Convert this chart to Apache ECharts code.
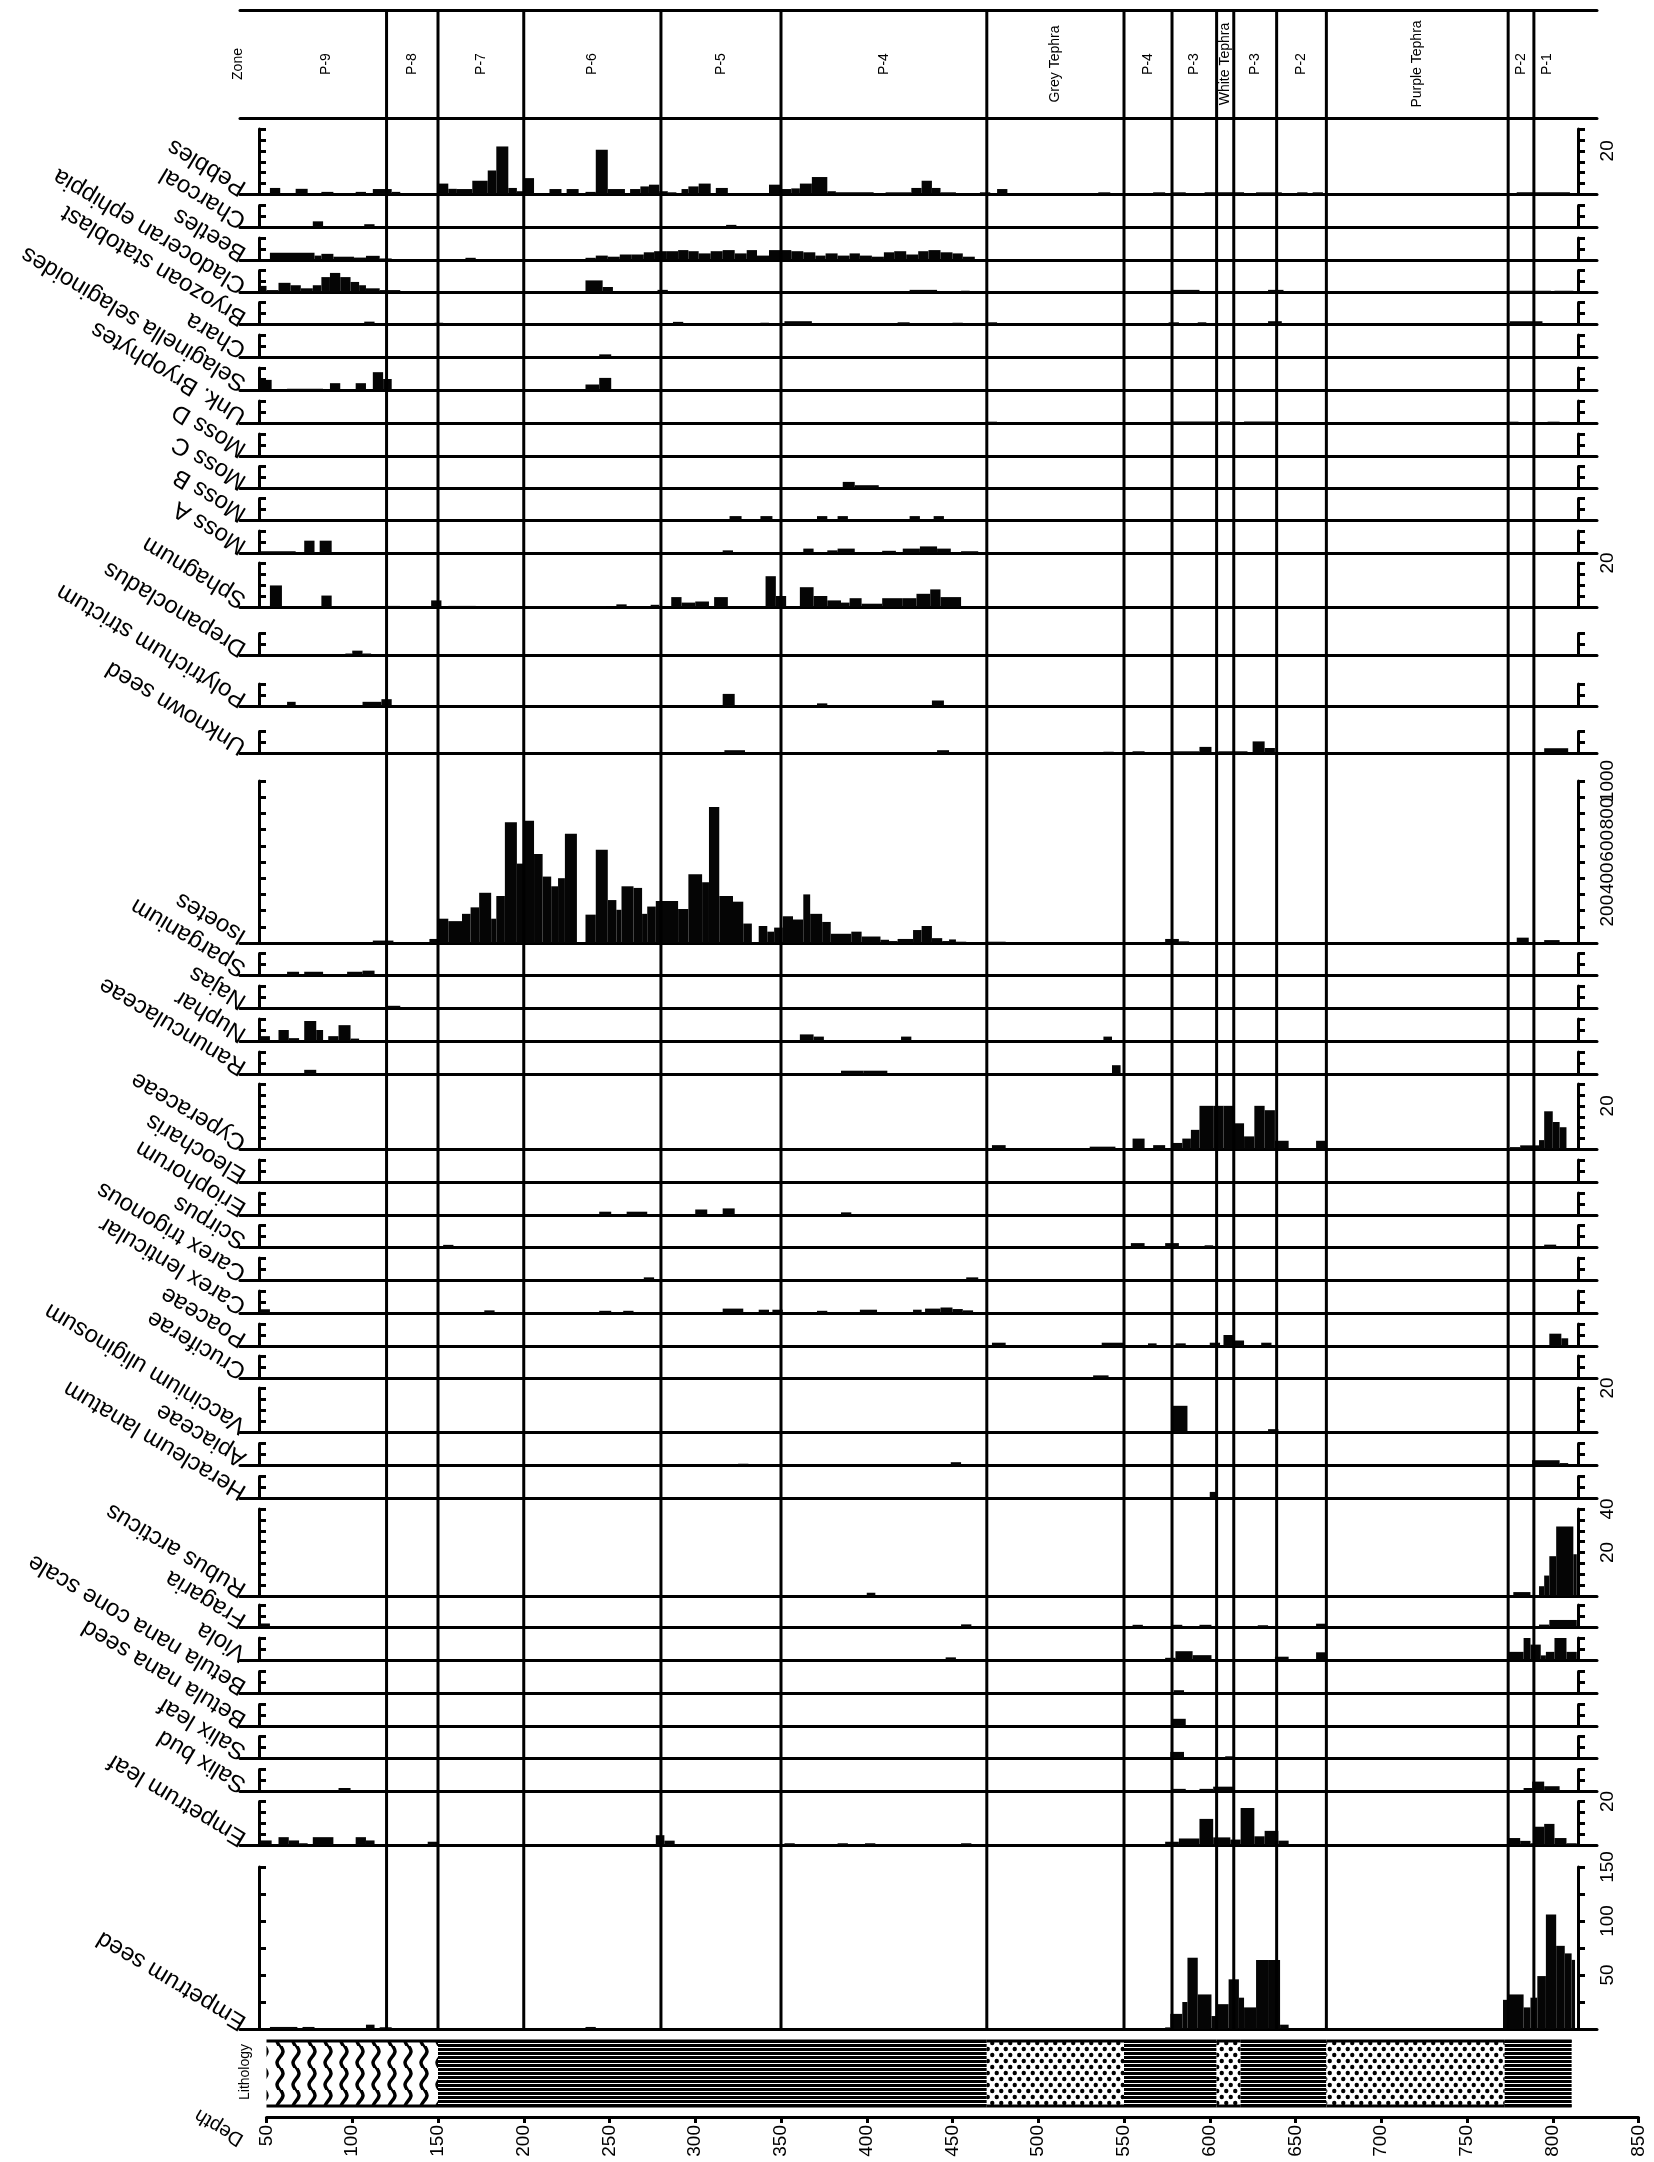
<!DOCTYPE html>
<html><head><meta charset="utf-8">
<script src="https://cdn.jsdelivr.net/npm/echarts@6/dist/echarts.min.js"></script>
<style>html,body{margin:0;padding:0;background:#fff}#c{width:1654px;height:2162px}</style>
</head><body><div id="c"></div>
<script>
// ---------------- DATA ----------------
const taxa = ["Pebbles","Charcoal","Beetles","Cladoceran ephippia","Bryozoan statoblast","Chara","Selaginella selaginoides","Unk. Bryophytes","Moss D","Moss C","Moss B","Moss A","Sphagnum","Drepanocladus","Polytrichum strictum","Unknown seed","Isoetes","Sparganium","Najas","Nuphar","Ranunculaceae","Cyperaceae","Eleocharis","Eriophorum","Scirpus","Carex trigonous","Carex lenticular","Poaceae","Cruciferae","Vaccinium uliginosum","Apiaceae","Heracleum lanatum","Rubus arcticus","Fragaria","Viola","Betula nana cone scale","Betula nana seed","Salix leaf","Salix bud","Empetrum leaf","Empetrum seed"];

// each sample: [top depth, bottom depth, count]
const pebbles = [[52,58,3],[67,74,2.6],[82,89,1.2],[102,108,1.2],[112,123,2.5],[123,128,1.2],[150,156,5],[156,161,2.6],[161,170,2.5],[170,179,6.3],[179,184,11],[184,191,22],[191,196,3],[196,200,1.5],[200,206,7.5],[215,222,2.5],[225,232,2.5],[236,242,1.2],[242,249,20.5],[249,259,2.5],[262,268,2.5],[268,273,3.7],[273,279,4.5],[279,284,1.5],[284,289,1],[292,296,2.5],[296,302,3.7],[302,309,5],[312,319,3],[343,350,4.5],[350,356,2.5],[356,361,2.8],[361,368,5],[368,377,8],[377,382,1.5],[382,404,1],[411,426,1],[426,432,3],[432,438,6.3],[438,443,3],[443,452,1],[466,472,1],[476,482,2.5],[535,542,1],[567,574,1],[578,586,1],[597,620,1],[627,642,1],[651,657,1],[660,666,1],[779,810,1]];
const charcoal = [[77,83,2.8],[107,113,1.5],[318,324,1.2]];
const beetles = [[52,78,3.3],[78,82,2],[82,89,2.8],[89,101,1.5],[101,108,1.1],[108,116,1.9],[116,123,0.7],[166,172,1],[236,242,1],[242,249,2],[249,256,1.5],[256,263,2.5],[263,270,2.5],[270,276,3.5],[276,283,4],[283,290,4],[290,296,4.5],[296,302,4],[302,309,3],[309,316,4],[316,323,4.5],[323,330,3],[330,336,4.5],[336,343,2],[343,350,4.5],[350,356,4.5],[356,363,4],[363,370,3.5],[370,376,2],[376,383,3],[383,390,2],[390,396,3],[396,403,2],[403,410,1.5],[410,416,3.5],[416,423,4],[423,430,2.5],[430,436,4],[436,443,4.5],[443,450,3.5],[450,456,3],[456,463,1.5]];
const cladoceranEphippia = [[46,50,3],[50,57,1.1],[57,64,4.4],[64,70,3.3],[70,77,1.9],[77,82,3.3],[82,87,7],[87,93,8.9],[93,99,7],[99,104,4.8],[104,108,3.3],[108,116,1.9],[116,128,1.1],[236,246,5.5],[246,252,2.5],[278,284,1.2],[425,441,1.2],[455,460,0.8],[578,594,1.2],[634,643,1.2],[775,799,0.8],[801,812,0.8]];
const bryozoanStatoblast = [[107,113,1.3],[148,153,0.8],[287,293,1.2],[338,343,0.8],[352,368,1.5],[418,425,1],[450,456,0.8],[470,476,1],[576,582,1],[593,598,1],[634,642,1.5],[775,794,1.5]];
const chara = [[244,251,1.2]];
const selaginella = [[46,53,4.6],[62,83,0.6],[87,93,3.1],[102,108,3.1],[112,118,8.1],[118,123,5],[236,244,2.5],[244,251,5.5]];
const unkBryophytes = [[470,476,0.6],[578,604,0.7],[606,612,0.7],[620,640,0.7],[774,780,0.6],[797,804,0.6]];
const mossD = [];
const mossC = [[386,393,3],[393,407,1.5]];
const mossB = [[320,327,2],[338,345,2],[371,377,2],[383,389,2],[425,431,2],[439,445,2]];
const mossA = [[46,67,0.8],[72,78,5.6],[81,88,5.6],[316,322,1.2],[363,369,2],[377,383,1.2],[383,393,2],[409,417,1],[421,431,2],[431,441,3],[441,449,2],[455,465,0.8]];
const sphagnum = [[52,59,9.8],[82,88,5.2],[120,128,0.5],[146,152,3],[156,172,0.5],[200,248,0.5],[254,260,1.2],[274,279,1],[286,292,4.5],[292,300,2],[300,308,2.5],[311,319,4.5],[341,347,14],[347,353,5],[361,369,9],[369,377,5],[377,385,3],[385,390,2],[390,397,4],[397,409,1.5],[409,421,4],[421,429,4],[429,437,6],[437,443,8],[443,455,4.5]];
const drepanocladus = [[96,100,0.9],[100,106,2.2],[106,111,0.9]];
const polytrichum = [[62,67,1.9],[106,117,1.9],[117,123,3.1],[316,323,5.5],[371,377,1.2],[438,445,2.5]];
const unknownSeed = [[317,329,1.5],[441,448,1.5],[538,544,0.8],[555,562,1],[578,594,1],[594,601,3],[605,622,1],[625,632,5.5],[632,638,2.5],[795,809,2.4]];
const isoetes = [[112,124,15],[145,150,25],[150,156,150],[156,164,135],[164,169,180],[169,174,220],[174,181,310],[181,184,150],[184,189,290],[189,196,745],[196,200,490],[200,206,755],[206,211,550],[211,216,410],[216,220,350],[220,224,400],[224,231,675],[236,242,175],[242,249,575],[249,254,265],[254,257,205],[257,264,350],[264,269,340],[269,272,180],[272,277,225],[277,290,260],[290,296,210],[296,304,425],[304,308,375],[308,314,840],[314,322,290],[322,328,255],[328,333,120],[333,337,5],[337,342,105],[342,346,70],[346,351,95],[351,357,165],[357,363,145],[363,367,300],[367,374,180],[374,379,130],[379,391,57],[391,397,70],[397,408,40],[408,413,20],[413,418,12],[418,427,25],[427,432,80],[432,438,105],[438,444,30],[444,448,12],[448,452,22],[452,458,8],[470,481,8],[530,550,6],[574,582,25],[582,588,10],[779,786,33],[795,804,18]];
const sparganium = [[62,69,1.7],[72,83,1.7],[97,106,1.7],[106,113,2.2]];
const najas = [[120,128,1]];
const nuphar = [[46,52,2.2],[57,63,5],[63,69,1.3],[72,79,9.1],[79,83,5],[86,92,2.2],[92,99,7.2],[99,104,1.1],[361,369,3],[369,375,2],[420,426,2],[538,543,2]];
const ranunculaceae = [[72,79,1.9],[385,398,1.5],[398,412,1.5],[543,548,4]];
const cyperaceae = [[473,481,2],[530,545,1.3],[555,562,5],[567,574,2],[578,584,3],[584,589,5],[589,594,9],[594,602,20],[602,608,20],[608,614,20],[614,620,12],[620,626,6],[626,632,20],[632,638,18],[638,646,4],[662,668,4],[775,781,1.1],[781,792,1.9],[792,795,4.3],[795,800,17.5],[800,804,12.6],[804,808,10.2]];
const eleocharis = [];
const eriophorum = [[244,251,1.5],[260,272,1.5],[300,307,2.5],[316,323,3],[385,391,1.2]];
const scirpus = [[153,159,1.2],[554,562,2],[574,582,2],[597,602,1],[795,802,1.3]];
const carexTrigonous = [[270,276,1.2],[458,465,1.2]];
const carexLenticular = [[46,52,1.7],[177,183,1.2],[244,251,1],[258,264,1],[316,328,2],[337,343,1.5],[345,351,1.5],[371,377,1],[396,406,1.5],[427,432,1.5],[434,443,2],[443,450,2.5],[450,456,1.8],[456,462,1.2]];
const poaceae = [[473,481,1.5],[537,550,1.5],[564,569,1.2],[580,586,1.2],[600,606,1.5],[608,614,5],[614,620,2.5],[630,636,1.5],[798,805,5.6],[805,809,3.5]];
const cruciferae = [[532,541,1.2]];
const vaccinium = [[578,587,12],[634,640,1.5]];
const apiaceae = [[325,331,0.8],[449,455,1.5],[781,788,0.5],[788,804,2.4],[804,809,1.1]];
const heracleum = [[600,604,3]];
const rubus = [[400,405,1.5],[777,787,1.8],[792,795,4.5],[795,798,9.4],[798,802,18.3],[802,812,32],[812,814,19.2]];
const fragaria = [[46,52,1.6],[455,461,1.2],[555,561,1],[578,584,1],[594,601,1],[628,634,0.8],[662,668,1.5],[792,798,1.1],[798,814,3.2]];
const viola = [[446,452,1.2],[574,580,1],[580,590,4],[590,601,2.2],[638,646,1.5],[662,668,3.5],[774,783,3.7],[783,787,10],[787,793,7],[793,796,2.1],[796,801,3.7],[801,808,10],[808,814,3.7]];
const betulaCone = [[579,585,1.5]];
const betulaSeed = [[578,586,3.5]];
const salixLeaf = [[577,585,3],[609,614,1]];
const salixBud = [[92,99,1.6],[578,586,1.2],[594,602,1.2],[602,614,2.2],[783,788,1.6],[788,795,4.5],[795,804,2.4]];
const empetrumLeaf = [[46,53,2.1],[57,63,3.6],[63,69,2.1],[69,74,0.8],[77,89,3.6],[102,108,3.6],[108,113,2.1],[144,150,1.5],[277,282,4.5],[282,288,2],[352,358,0.8],[383,389,0.8],[399,405,0.8],[455,461,0.8],[574,582,1.5],[582,594,3],[594,602,12],[602,612,3.5],[612,618,2.5],[618,626,17],[626,632,4],[632,640,6.5],[640,646,2],[774,781,3.2],[781,787,1.9],[787,789,0.8],[789,795,8.4],[795,801,9.7],[801,808,3.2],[808,814,0.8]];
const empetrumSeed = [[52,68,1.9],[71,78,1.9],[108,113,4],[116,123,1.6],[236,242,1.9],[574,577,1.5],[577,584,14],[584,587,25],[587,593,66],[593,601,32],[601,604,12],[604,611,23],[611,617,46],[617,620,29],[620,627,20],[627,634,64],[634,641,64],[641,646,4],[771,774,27],[774,783,32],[783,787,20],[787,791,29],[791,796,49],[796,802,106],[802,807,77],[807,811,70],[811,813,64]];

const taxonData = [pebbles,charcoal,beetles,cladoceranEphippia,bryozoanStatoblast,chara,selaginella,unkBryophytes,mossD,mossC,mossB,mossA,sphagnum,drepanocladus,polytrichum,unknownSeed,isoetes,sparganium,najas,nuphar,ranunculaceae,cyperaceae,eleocharis,eriophorum,scirpus,carexTrigonous,carexLenticular,poaceae,cruciferae,vaccinium,apiaceae,heracleum,rubus,fragaria,viola,betulaCone,betulaSeed,salixLeaf,salixBud,empetrumLeaf,empetrumSeed];

// axis scales of each panel
const axisMax  = [30,10,10,10,10,10,10,10,10,10,10,10,20,10,10,10,1000,10,10,10,10,30,10,10,10,10,10,10,10,20,10,10,40,10,10,10,10,10,10,20,150];
const axisStep = [5,5,5,5,5,5,5,5,5,5,5,5,5,5,5,5,100,5,5,5,5,5,5,5,5,5,5,5,5,5,5,5,5,5,5,5,5,5,5,5,25];
const axisTickLabels = [[20],[],[],[],[],[],[],[],[],[],[],[],[20],[],[],[],[200,400,600,800,1000],[],[],[],[],[20],[],[],[],[],[],[],[],[20],[],[],[20,40],[],[],[],[],[],[],[20],[50,100,150]];

// zones
const zoneNames = ["P-9","P-8","P-7","P-6","P-5","P-4","Grey Tephra","P-4","P-3","White Tephra","P-3","P-2","Purple Tephra","P-2","P-1"];
const zoneSpans = [[50,120],[120,150],[150,200],[200,280],[280,350],[350,470],[470,550],[550,578],[578,604],[604,614],[614,639],[639,668],[668,774],[774,789],[789,805]];
const zoneLines = [120,150,200,280,350,470,550,578,604,614,639,668,774,789];

// lithology
const lithSpans = [[50,150],[150,470],[470,550],[550,604],[604,618],[618,668],[668,772],[772,811]];
const lithTypes = ["wavy","peat","tephra","peat","tephra","peat","tephra","peat"];

// depth axis
const depthMin = 50, depthMax = 850, depthStep = 50;

// ---------------- LAYOUT ----------------
const baselineY = [194.5,227.5,260,292.5,324.5,357,390,423,456,488.5,520.5,553,607,655.5,706,753.5,943,975.5,1008,1041,1074,1149.5,1182,1215,1247.5,1280,1313,1346,1378,1432.5,1465.5,1498.5,1596,1627,1660,1693.5,1726.5,1758.5,1791.5,1845,2029];
const panelHeight = [65.5,22,22,22,22,22,22,22,22,22,22,22,44,22,22,22,162,22,22,22,22,65.5,22,22,22,22,22,22,22,44.5,22,22,87,22,22,22,22,22,22,43.5,162];
const PL = 240, PR = 1597;          // baseline extent (px)
const XMIN = 34.55, XMAX = 825.8;   // depth at PL / PR
const AX_OFF = 19;                  // axis inset
const FAM = "'Liberation Sans', Arial, sans-serif";
const font = s => s + "px " + FAM;

// ---------------- BUILD ----------------
const grids = [], xAxes = [], yAxes = [], series = [], graphics = [];
const black = '#000';
function hiddenX(gi, extra){ return Object.assign({gridIndex:gi,type:'value',min:XMIN,max:XMAX,axisLine:{show:false},axisTick:{show:false},axisLabel:{show:false},splitLine:{show:false}}, extra||{}); }
function txt(text, size, align, vAlign){ return {text:text, font:font(size), fontSize:size, fontFamily:FAM, fill:black, align:align, textAlign:align, verticalAlign:vAlign, textVerticalAlign:vAlign}; }

function renderBar(params, api){
  const p0 = api.coord([api.value(0), api.value(2)]);
  const p1 = api.coord([api.value(1), 0]);
  return {type:'rect', shape:{x:p0[0], y:p0[1], width:p1[0]-p0[0], height:p1[1]-p0[1]}, style:{fill:'#050505'}};
}

taxa.forEach((name, i) => {
  const base = baselineY[i], h = panelHeight[i];
  grids.push({left:PL, width:PR-PL, top:base-h, height:h, outerBoundsMode:'none', containLabel:false});
  const gi = grids.length-1;
  xAxes.push(hiddenX(gi, {position:'bottom', axisLine:{show:true,onZero:false,lineStyle:{color:black,width:3}}}));
  const xi = xAxes.length-1;
  const labs = axisTickLabels[i];
  const common = {gridIndex:gi,type:'value',min:0,max:axisMax[i],interval:axisStep[i],splitLine:{show:false},
    axisLine:{show:true,onZero:false,lineStyle:{color:black,width:3}}};
  yAxes.push(Object.assign({}, common, {position:'left', offset:-AX_OFF,
    axisTick:{show:true,inside:true,length:7,lineStyle:{color:black,width:3}}, axisLabel:{show:false}}));
  yAxes.push(Object.assign({}, common, {position:'right', offset:-AX_OFF,
    axisTick:{show:true,inside:false,length:7,lineStyle:{color:black,width:3}},
    axisLabel:{show:labs.length>0, rotate:90, margin:20, fontSize:19, fontFamily:FAM, color:black,
      showMinLabel:true, showMaxLabel:true,
      formatter: v => labs.indexOf(v) >= 0 ? String(v) : ''}}));
  const yi = yAxes.length-1;
  series.push({type:'custom', xAxisIndex:xi, yAxisIndex:yi, data:taxonData[i], renderItem:renderBar,
    encode:{x:[0,1], y:2}, silent:true, clip:false, z:2});
  graphics.push({type:'text', x:244, y:base-5, rotation:149*Math.PI/180, z:10, style:txt(name, 24, 'left', 'middle')});
});

// header (zone box)
grids.push({left:PL, width:PR-PL, top:10, height:108, outerBoundsMode:'none'});
let gi = grids.length-1;
xAxes.push(hiddenX(gi, {position:'bottom', axisLine:{show:true,onZero:false,lineStyle:{color:black,width:3}}}));
const hx = xAxes.length-1;
xAxes.push(hiddenX(gi, {position:'top', axisLine:{show:true,onZero:false,lineStyle:{color:black,width:3}}}));
yAxes.push({gridIndex:gi,type:'value',min:0,max:1,show:false});
const hy = yAxes.length-1;
series.push({type:'custom', xAxisIndex:hx, yAxisIndex:hy, data:zoneSpans, silent:true, clip:false, z:5,
  encode:{x:[0,1]},
  renderItem:(params, api) => {
    const c = api.coord([(api.value(0)+api.value(1))/2, 0.5]);
    return {type:'text', x:c[0], y:c[1], rotation:Math.PI/2,
      style:txt(zoneNames[params.dataIndex], 14, 'center', 'middle')};
  }});
graphics.push({type:'text', x:238, y:64, rotation:Math.PI/2, z:10, style:txt('Zone', 14, 'center', 'middle')});

// zone lines overlay
grids.push({left:PL, width:PR-PL, top:10, height:2029-10, outerBoundsMode:'none'});
gi = grids.length-1;
xAxes.push(hiddenX(gi));
const ox = xAxes.length-1;
yAxes.push({gridIndex:gi,type:'value',min:0,max:1,show:false});
const oy = yAxes.length-1;
series.push({type:'custom', xAxisIndex:ox, yAxisIndex:oy, data:zoneLines.map(d=>[d]), silent:true, clip:false, z:6,
  encode:{x:0},
  renderItem:(params, api) => {
    const a = api.coord([api.value(0), 1]);
    const b = api.coord([api.value(0), 0]);
    return {type:'line', shape:{x1:a[0],y1:a[1],x2:b[0],y2:b[1]}, style:{stroke:black, lineWidth:3}};
  }});

// lithology patterns
function makeCanvas(w, h, draw){ const c = document.createElement('canvas'); c.width=w; c.height=h; draw(c.getContext('2d')); return c; }
const patterns = {
  peat: makeCanvas(8, 4, g => { g.fillStyle='#000'; g.fillRect(0,0,8,4); g.fillStyle='#fff'; g.fillRect(0,3,8,1); }),
  tephra: makeCanvas(9, 12, g => { g.fillStyle='#fff'; g.fillRect(0,0,9,12); g.fillStyle='#000';
    [[2.25,3],[6.75,9]].forEach(p => { g.beginPath(); g.arc(p[0],p[1],2.2,0,Math.PI*2); g.fill(); }); }),
  wavy: makeCanvas(16, 22, g => { g.fillStyle='#fff'; g.fillRect(0,0,16,22); g.strokeStyle='#000'; g.lineWidth=3.5;
    g.beginPath(); g.moveTo(8,-1); g.bezierCurveTo(12,5, 12,6, 8,11); g.bezierCurveTo(4,16, 4,17, 8,23); g.stroke(); })
};

grids.push({left:266.5, width:1372, top:2040, height:67, outerBoundsMode:'none'});
gi = grids.length-1;
xAxes.push({gridIndex:gi, type:'value', min:depthMin, max:depthMax, interval:depthStep, position:'bottom', offset:10,
  axisLine:{show:true,onZero:false,lineStyle:{color:black,width:3}},
  axisTick:{show:true,length:6,lineStyle:{color:black,width:3}},
  axisLabel:{show:true,rotate:90,margin:8,fontSize:19,fontFamily:FAM,color:black,showMinLabel:true,showMaxLabel:true},
  splitLine:{show:false}});
const lx = xAxes.length-1;
yAxes.push({gridIndex:gi,type:'value',min:0,max:1,show:false});
const ly = yAxes.length-1;
series.push({type:'custom', xAxisIndex:lx, yAxisIndex:ly, data:lithSpans, silent:true, clip:false, z:3,
  encode:{x:[0,1]},
  renderItem:(params, api) => {
    const a = api.coord([api.value(0), 1]);
    const b = api.coord([api.value(1), 0]);
    return {type:'group', children:[
      {type:'rect', shape:{x:a[0], y:a[1], width:b[0]-a[0], height:b[1]-a[1]},
        style:{fill:{image:patterns[lithTypes[params.dataIndex]], repeat:'repeat'}}},
      {type:'line', shape:{x1:a[0],y1:a[1]+1,x2:b[0],y2:a[1]+1}, style:{stroke:black,lineWidth:3}},
      {type:'line', shape:{x1:a[0],y1:b[1]-1,x2:b[0],y2:b[1]-1}, style:{stroke:black,lineWidth:3}}
    ]};
  }});
graphics.push({type:'text', x:245, y:2072, rotation:Math.PI/2, z:10, style:txt('Lithology', 14, 'center', 'middle')});
graphics.push({type:'text', x:242, y:2141, rotation:149*Math.PI/180, z:10, style:txt('Depth', 20, 'left', 'middle')});

const chart = echarts.init(document.getElementById('c'), null, {renderer:'canvas'});
chart.setOption({
  animation:false,
  backgroundColor:'#fff',
  grid:grids, xAxis:xAxes, yAxis:yAxes, series:series, graphic:{elements:graphics}
});
</script></body></html>
